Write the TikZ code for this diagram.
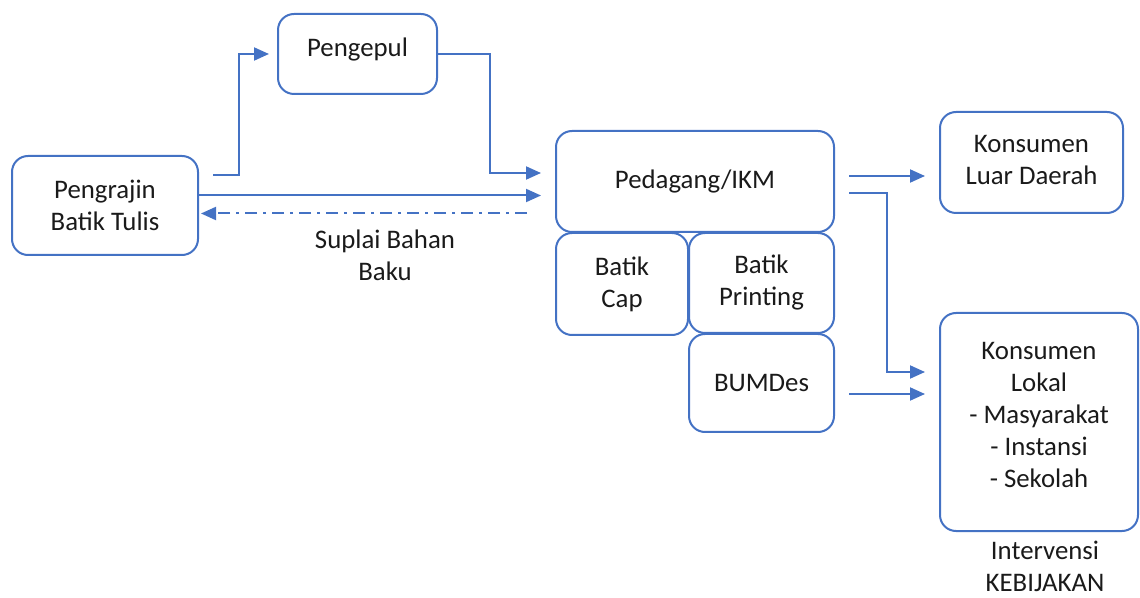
\documentclass[tikz,border=0pt]{standalone}
\usepackage{fontspec}
\setmainfont{Carlito}
\usetikzlibrary{arrows.meta}

\definecolor{boxblue}{HTML}{4472C4}
\definecolor{txtgray}{HTML}{1A1A1A}

\tikzset{
    box/.style={draw=boxblue, line width=1pt, rounded corners=8pt, align=center,
        inner sep=0pt, text=txtgray},
    arr/.style={draw=boxblue, line width=1pt, -{Triangle[length=7.5pt,width=6.5pt]}},
    back/.style={arr, dash pattern=on 6pt off 3pt on 1.5pt off 3pt},
    lbl/.style={align=center, text=txtgray}
}

\begin{document}
\begin{tikzpicture}[x=0.5pt, y=-0.5pt,
        every node/.append style={font=\fontsize{13.4}{16}\selectfont}]
    \useasboundingbox (0,0) rectangle (1140,598);

    % actors
    \node[box, minimum width=93pt, minimum height=49.5pt] (pengrajin) at (105,205.5) {Pengrajin\\Batik Tulis};
    \node[box, minimum width=79.5pt, minimum height=40pt] (pengepul) at (357.5,54) {Pengepul\\[-9pt]};
    \node[box, minimum width=139pt, minimum height=50.5pt] (pedagang) at (695,181.5) {Pedagang/IKM};
    \node[box, minimum width=66pt, minimum height=51pt] (cap) at (622,284) {Batik\\Cap};
    \node[box, minimum width=72.5pt, minimum height=50pt] (printing) at (761.5,283) {Batik\\Printing};
    \node[box, minimum width=72.5pt, minimum height=49pt] (bumdes) at (761.5,383) {BUMDes};
    \node[box, minimum width=91.5pt, minimum height=50.5pt] (luar) at (1031.5,162.5) {Konsumen\\Luar Daerah\\[-13pt]};
    \node[box, minimum width=99pt, minimum height=109pt] (lokal) at (1039,422)
        {Konsumen\\Lokal\\- Masyarakat\\- Instansi\\- Sekolah\\[-9pt]};

    % labels
    \node[lbl] (suplai) at (385,255) {Suplai Bahan\\Baku};
    \node[lbl] (intervensi) at (1045,566) {Intervensi\\KEBIJAKAN};

    % flows
    \draw[arr, shorten >=4pt] ([xshift=7pt,yshift=15pt]pengrajin.east) -- ++(13pt,0) |- (pengepul.west);
    \draw[arr, shorten >=7pt] (pengepul.east) -- ++(26pt,0) |- ([yshift=4.25pt]pedagang.west);
    \draw[arr, shorten >=7pt] ([yshift=5pt]pengrajin.east) -- ([yshift=5pt]pengrajin.east -| pedagang.west);
    \draw[back, shorten <=14pt, shorten >=1pt] ([yshift=-4pt]pengrajin.east -| pedagang.west) -- ([yshift=-4pt]pengrajin.east);

    \draw[arr, shorten <=7pt, shorten >=7pt] ([yshift=2.75pt]pedagang.east) -- ([yshift=2.75pt]pedagang.east -| luar.west);
    \draw[arr, shorten >=7pt] ([xshift=7pt,yshift=-5.75pt]pedagang.east) -- ++(19pt,0) |- ([yshift=25pt]lokal.west);
    \draw[arr, shorten <=7pt, shorten >=7pt] ([yshift=-5.5pt]bumdes.east) -- ([yshift=-5.5pt]bumdes.east -| lokal.west);
\end{tikzpicture}
\end{document}
